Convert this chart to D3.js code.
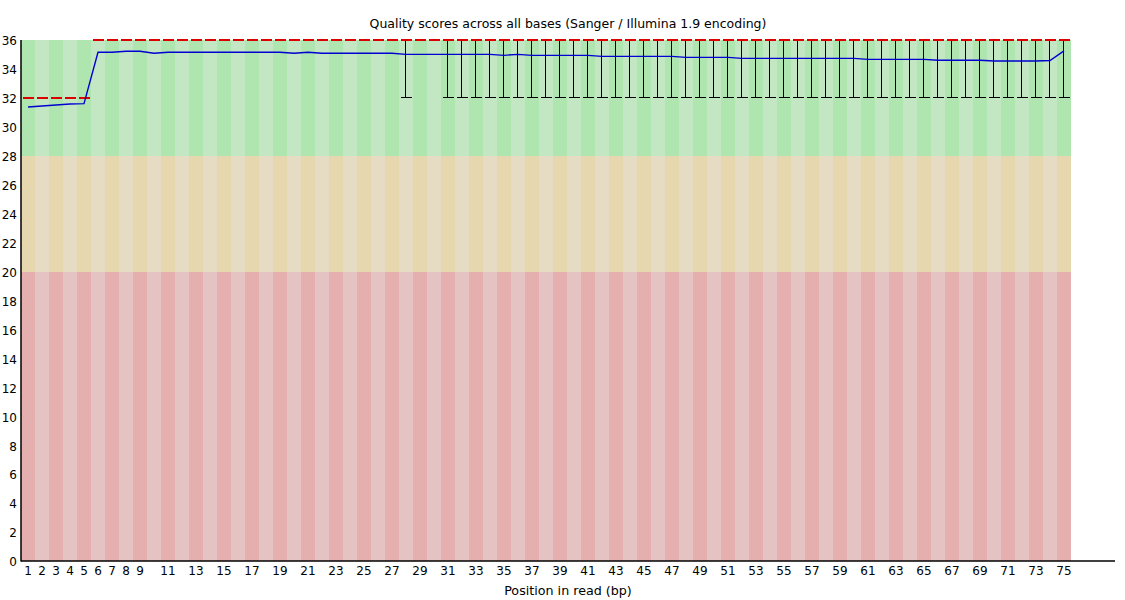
<!DOCTYPE html>
<html>
<head>
<meta charset="utf-8">
<script src="https://cdn.jsdelivr.net/npm/d3@7"></script>
<style>
  html, body { margin: 0; padding: 0; background: #fff; }
  svg text { font-family: "DejaVu Sans", sans-serif; font-size: 12px; fill: #000; }
</style>
</head>
<body>
<svg id="chart" width="1125" height="600"></svg>
<script>
// ---- data ----
const positions = d3.range(1, 76);
const meanScores = [
  31.37, 31.44, 31.51, 31.58, 31.60, 35.15, 35.15, 35.22, 35.22, 35.08,
  35.15, 35.15, 35.15, 35.15, 35.15, 35.15, 35.15, 35.15, 35.15, 35.08,
  35.15, 35.08, 35.08, 35.08, 35.08, 35.08, 35.08, 35.01, 35.01, 35.01,
  35.01, 35.01, 35.01, 35.01, 34.94, 35.01, 34.94, 34.94, 34.94, 34.94,
  34.94, 34.87, 34.87, 34.87, 34.87, 34.87, 34.87, 34.80, 34.80, 34.80,
  34.80, 34.73, 34.73, 34.73, 34.73, 34.73, 34.73, 34.73, 34.73, 34.73,
  34.66, 34.66, 34.66, 34.66, 34.66, 34.60, 34.60, 34.60, 34.60, 34.55,
  34.55, 34.55, 34.55, 34.58, 35.25
];
const medianScores = [
  32, 32, 32, 32, 32, 36, 36, 36, 36, 36,
  36, 36, 36, 36, 36, 36, 36, 36, 36, 36,
  36, 36, 36, 36, 36, 36, 36, 36, 36, 36,
  36, 36, 36, 36, 36, 36, 36, 36, 36, 36,
  36, 36, 36, 36, 36, 36, 36, 36, 36, 36,
  36, 36, 36, 36, 36, 36, 36, 36, 36, 36,
  36, 36, 36, 36, 36, 36, 36, 36, 36, 36,
  36, 36, 36, 36, 36
];
const lower10 = [
  32, 32, 32, 32, 32, 36, 36, 36, 36, 36,
  36, 36, 36, 36, 36, 36, 36, 36, 36, 36,
  36, 36, 36, 36, 36, 36, 36, 32, 36, 36,
  32, 32, 32, 32, 32, 32, 32, 32, 32, 32,
  32, 32, 32, 32, 32, 32, 32, 32, 32, 32,
  32, 32, 32, 32, 32, 32, 32, 32, 32, 32,
  32, 32, 32, 32, 32, 32, 32, 32, 32, 32,
  32, 32, 32, 32, 32
];
const upper90 = [
  32, 32, 32, 32, 32, 36, 36, 36, 36, 36,
  36, 36, 36, 36, 36, 36, 36, 36, 36, 36,
  36, 36, 36, 36, 36, 36, 36, 36, 36, 36,
  36, 36, 36, 36, 36, 36, 36, 36, 36, 36,
  36, 36, 36, 36, 36, 36, 36, 36, 36, 36,
  36, 36, 36, 36, 36, 36, 36, 36, 36, 36,
  36, 36, 36, 36, 36, 36, 36, 36, 36, 36,
  36, 36, 36, 36, 36
];
const yTickValues = d3.range(0, 37, 2);
const xTickLabels = [1,2,3,4,5,6,7,8,9,11,13,15,17,19,21,23,25,27,29,31,33,35,37,39,41,43,45,47,49,51,53,55,57,59,61,63,65,67,69,71,73,75];
const zones = [
  { name: "good", from: 28, to: 36, dark: "rgb(175,230,175)", light: "rgb(195,230,195)" },
  { name: "ok",   from: 20, to: 28, dark: "rgb(230,215,175)", light: "rgb(230,220,195)" },
  { name: "bad",  from: 0,  to: 20, dark: "rgb(230,175,175)", light: "rgb(230,195,195)" }
];
const titleText = "Quality scores across all bases (Sanger / Illumina 1.9 encoding)";
const xLabelText = "Position in read (bp)";

// ---- layout ----
const plotLeft = 21, plotRight = 1071, axisEnd = 1115, plotTop = 40, plotBottom = 561;
const svg = d3.select("#chart");
const x = d3.scaleBand().domain(positions).range([plotLeft, plotRight]).padding(0);
const y = d3.scaleLinear().domain([0, 36]).range([plotBottom, plotTop]);
const bw = x.bandwidth();

// background bands
const bg = svg.append("g");
zones.forEach(z => {
  bg.selectAll(null).data(positions).enter().append("rect")
    .attr("x", d => x(d))
    .attr("width", bw)
    .attr("y", y(z.to))
    .attr("height", y(z.from) - y(z.to))
    .attr("fill", (d, i) => i % 2 === 0 ? z.dark : z.light)
    .attr("shape-rendering", "crispEdges");
});

const rows = positions.map((p, i) => ({ p, mean: meanScores[i], med: medianScores[i], lo: lower10[i], hi: upper90[i] }));

// whiskers
const wk = svg.append("g").attr("stroke", "#000").attr("stroke-width", 1).attr("shape-rendering", "crispEdges");
const wRows = rows.filter(r => r.lo !== r.hi);
wk.selectAll(".v").data(wRows).enter().append("line")
  .attr("x1", r => x(r.p) + bw / 2 - 0.5).attr("x2", r => x(r.p) + bw / 2 - 0.5)
  .attr("y1", r => y(r.lo)).attr("y2", r => y(r.hi));
wk.selectAll(".lo").data(wRows).enter().append("line")
  .attr("x1", r => x(r.p) + 2).attr("x2", r => x(r.p) + bw - 1)
  .attr("y1", r => y(r.lo)).attr("y2", r => y(r.lo));
wk.selectAll(".hi").data(wRows).enter().append("line")
  .attr("x1", r => x(r.p) + 2).attr("x2", r => x(r.p) + bw - 1)
  .attr("y1", r => y(r.hi)).attr("y2", r => y(r.hi));

// median (red)
svg.append("g").selectAll("line").data(rows).enter().append("line")
  .attr("x1", r => x(r.p) + 2).attr("x2", r => x(r.p) + bw - 1)
  .attr("y1", r => y(r.med)).attr("y2", r => y(r.med))
  .attr("stroke", "rgb(220,0,0)").attr("stroke-width", 2)
  .attr("shape-rendering", "crispEdges");

// mean line (blue)
svg.append("path").datum(rows)
  .attr("fill", "none").attr("stroke", "rgb(0,0,210)").attr("stroke-width", 1.4)
  .attr("d", d3.line().x(r => x(r.p) + bw / 2).y(r => y(r.mean)));

// axes
const yAxis = svg.append("g").attr("transform", `translate(${plotLeft},0)`)
  .call(d3.axisLeft(y).tickValues(yTickValues).tickSize(0).tickPadding(4).tickFormat(d3.format("d")));
yAxis.select(".domain").remove();
yAxis.selectAll("text").style("font-family", "DejaVu Sans, sans-serif").style("font-size", "12px").attr("dy", "0.4em");

const xAxis = svg.append("g").attr("transform", `translate(0,${plotBottom})`)
  .call(d3.axisBottom(x).tickValues(xTickLabels).tickSize(0).tickPadding(5));
xAxis.select(".domain").remove();
xAxis.selectAll("text").style("font-family", "DejaVu Sans, sans-serif").style("font-size", "12px");

svg.append("line").attr("x1", plotLeft).attr("x2", plotLeft).attr("y1", plotTop).attr("y2", plotBottom + 0.5)
  .attr("stroke", "#000").attr("stroke-width", 1.5);
svg.append("line").attr("x1", plotLeft).attr("x2", axisEnd).attr("y1", plotBottom).attr("y2", plotBottom)
  .attr("stroke", "#000").attr("stroke-width", 1.5);

// title & label
svg.append("text").attr("x", (plotLeft + axisEnd) / 2).attr("y", 28).attr("text-anchor", "middle")
  .style("font-size", "12.5px").text(titleText);
svg.append("text").attr("x", (plotLeft + axisEnd) / 2).attr("y", 595).attr("text-anchor", "middle")
  .style("font-size", "12.7px").text(xLabelText);
</script>
</body>
</html>
